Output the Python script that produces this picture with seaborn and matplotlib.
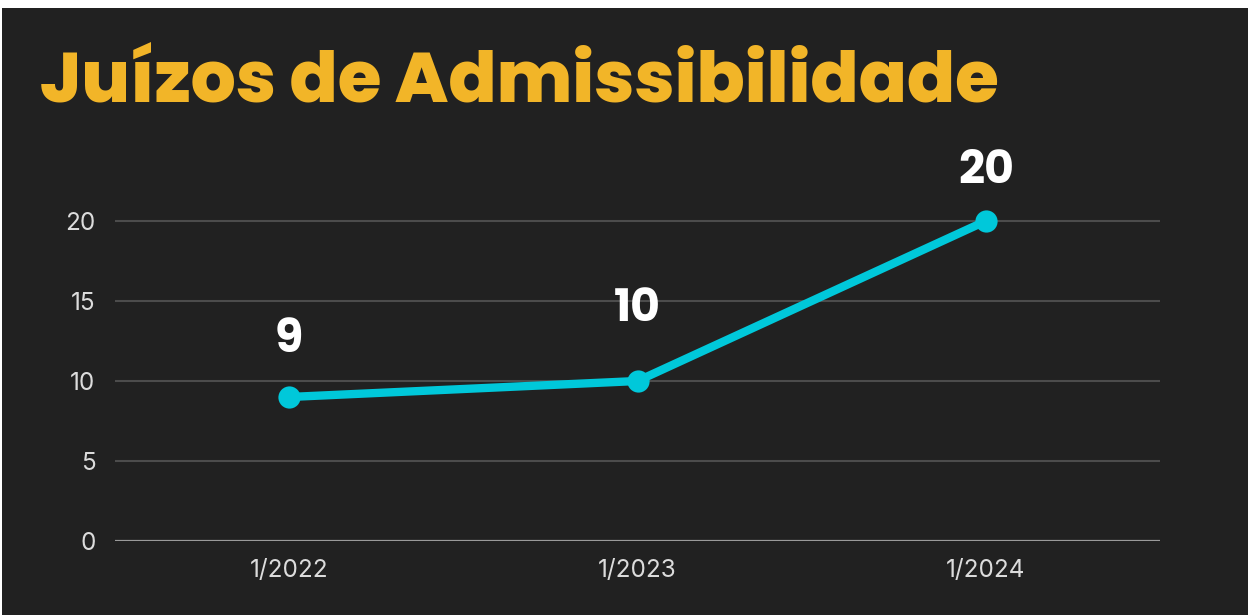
import matplotlib
matplotlib.use("Agg")
import matplotlib.pyplot as plt
import seaborn as sns
import pandas as pd
from matplotlib.patches import Rectangle

categories = ["1/2022", "1/2023", "1/2024"]
values = [9, 10, 20]
yticks = [0, 5, 10, 15, 20]
title = "Juízos de Admissibilidade"
label_offsets = [40, 51, 35]  # points above each marker

BG = "#212121"
sns.set_theme(style="dark")
plt.rcParams["font.family"] = ["Inter", "DejaVu Sans"]

W, H = 1248, 615
fig = plt.figure(figsize=(W / 100, H / 100), dpi=100, facecolor=BG)
ax = fig.add_axes([115 / W, 74 / H, (1160 - 115) / W, (541 - 141) / H])
ax.set_facecolor(BG)

df = pd.DataFrame({"x": range(len(categories)), "y": values})
sns.lineplot(data=df, x="x", y="y", ax=ax, color="#00C8DA", linewidth=6,
             marker="o", markersize=16, markeredgewidth=0, zorder=5)

ax.set_xlim(-0.5, len(categories) - 0.5)
ax.set_ylim(0, 25)
ax.set_xticks(range(len(categories)))
ax.set_xticklabels(categories)
ax.set_yticks(yticks)
ax.set_xlabel("")
ax.set_ylabel("")
for s in ax.spines.values():
    s.set_visible(False)
ax.grid(False)
for t in yticks:
    if t == 0:
        ax.axhline(t, color="#9a9a9a", linewidth=1.6, zorder=2)
    else:
        ax.axhline(t, color="#4c4c4c", linewidth=1.5, zorder=1)
ax.tick_params(axis="both", length=0, colors="#dcdcdc", labelsize=17.5)
ax.tick_params(axis="y", pad=14)
ax.tick_params(axis="x", pad=13)

for i, (v, off) in enumerate(zip(values, label_offsets)):
    ax.annotate(str(v), (i, v), xytext=(0, off), textcoords="offset points",
                ha="center", va="center", color="white", fontsize=33,
                fontweight="bold", family=["Poppins", "DejaVu Sans"])

fig.text(40 / W, 1 - 102 / H, title, color="#F2B528", fontsize=51,
         fontweight=800, family=["Poppins", "DejaVu Sans"], ha="left", va="baseline")

# white frame edges
fig.patches.append(Rectangle((0, 1 - 8 / H), 1, 8 / H, transform=fig.transFigure,
                             facecolor="white", edgecolor="none", zorder=10))
fig.patches.append(Rectangle((0, 0), 2 / W, 1, transform=fig.transFigure,
                             facecolor="white", edgecolor="none", zorder=10))

fig.savefig("out.png", dpi=100, facecolor=BG)
